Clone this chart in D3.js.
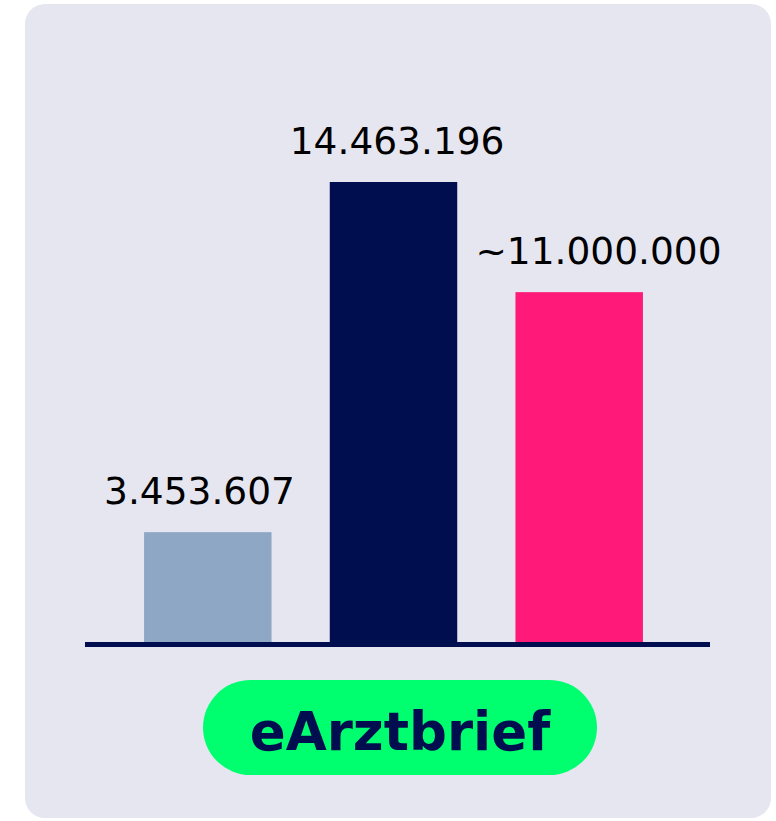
<!DOCTYPE html>
<html>
<head>
<meta charset="utf-8">
<script src="https://cdn.jsdelivr.net/npm/d3@7"></script>
<style>
  html, body { margin: 0; padding: 0; background: #fff; }
  svg { display: block; }
</style>
</head>
<body>
<div id="chart"></div>
<script>
const categories = ["a", "b", "c"]
const values = [3453607, 14463196, 11000000]
const labels = ["3.453.607", "14.463.196", "~11.000.000"]
const barColors = ["#8da7c5", "#000e4f", "#ff1a7a"]
const title = "eArztbrief"

const width = 776, height = 821
const navy = "#000e4f"

const svg = d3.select("#chart").append("svg")
  .attr("width", width)
  .attr("height", height)

// card background
svg.append("rect")
  .attr("x", 25).attr("y", 4)
  .attr("width", 746).attr("height", 814)
  .attr("rx", 20)
  .attr("fill", "#e6e6f1")

const baseY = 642
const x = d3.scaleBand()
  .domain(categories)
  .range([80, 707])
  .paddingInner(0.3135)
  .paddingOuter(0.345)

const y = d3.scaleLinear()
  .domain([0, d3.max(values)])
  .range([baseY, 182])

const g = svg.append("g")

g.selectAll("rect.bar")
  .data(values)
  .join("rect")
  .attr("class", "bar")
  .attr("x", (d, i) => x(categories[i]))
  .attr("y", (d) => y(d))
  .attr("width", x.bandwidth())
  .attr("height", (d) => y(0) - y(d))
  .attr("fill", (d, i) => barColors[i])

// value labels hang left of each bar, starting ~40px before it
g.selectAll("text.val")
  .data(values)
  .join("text")
  .attr("class", "val")
  .attr("x", (d, i) => x(categories[i]) - 40)
  .attr("y", (d) => y(d) - 28)
  .attr("text-anchor", "start")
  .attr("font-family", "'DejaVu Sans', Verdana, sans-serif")
  .attr("font-size", 37.5)
  .attr("fill", "#000")
  .text((d, i) => labels[i])

// baseline
g.append("line")
  .attr("x1", 85).attr("x2", 710)
  .attr("y1", baseY + 2.5).attr("y2", baseY + 2.5)
  .attr("stroke", navy)
  .attr("stroke-width", 5)

// title pill
const pill = svg.append("g").attr("transform", "translate(400,727.5)")
pill.append("rect")
  .attr("x", -197).attr("y", -47.5)
  .attr("width", 394).attr("height", 95)
  .attr("rx", 47.5)
  .attr("fill", "#00ff6e")
pill.append("text")
  .attr("text-anchor", "middle")
  .attr("y", 22)
  .attr("font-family", "'DejaVu Sans', Verdana, sans-serif")
  .attr("font-weight", "bold")
  .attr("font-size", 53)
  .attr("fill", navy)
  .text(title)
</script>
</body>
</html>
